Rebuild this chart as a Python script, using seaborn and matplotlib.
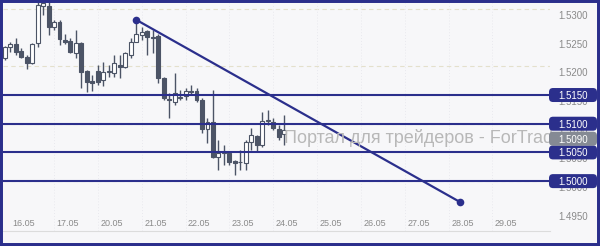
import numpy as np
import pandas as pd
import matplotlib
matplotlib.use("Agg")
import matplotlib.pyplot as plt
import seaborn as sns
from matplotlib.patches import FancyBboxPatch, Rectangle
from matplotlib.transforms import IdentityTransform

# ---- data (3-hour candles, 16.05 .. 24.05) ----
opens = [1.5214, 1.5234, 1.5239, 1.5227, 1.5216, 1.5206, 1.5241, 1.5305, 1.5305, 1.5268,
         1.5277, 1.5246, 1.5244, 1.5223, 1.5241, 1.5192, 1.5174, 1.5192, 1.5176, 1.5190,
         1.5188, 1.5202, 1.5199, 1.5220, 1.5242, 1.5255, 1.5261, 1.5251, 1.5253, 1.5180,
         1.5143, 1.5138, 1.5145, 1.5148, 1.5157, 1.5157, 1.5141, 1.5091, 1.5103, 1.5042,
         1.5049, 1.5049, 1.5035, 1.5033, 1.5032, 1.5068, 1.5079, 1.5063, 1.5105, 1.5103,
         1.5091, 1.5082]
highs = [1.5235, 1.5242, 1.5249, 1.5232, 1.5220, 1.5241, 1.5318, 1.5318, 1.5318, 1.5281,
         1.5281, 1.5256, 1.5249, 1.5263, 1.5242, 1.5194, 1.5185, 1.5202, 1.5207, 1.5202,
         1.5220, 1.5220, 1.5225, 1.5249, 1.5281, 1.5268, 1.5263, 1.5263, 1.5256, 1.5181,
         1.5153, 1.5188, 1.5159, 1.5162, 1.5167, 1.5162, 1.5145, 1.5110, 1.5159, 1.5072,
         1.5063, 1.5051, 1.5037, 1.5054, 1.5072, 1.5093, 1.5080, 1.5120, 1.5124, 1.5110,
         1.5098, 1.5115]
lows = [1.5211, 1.5225, 1.5220, 1.5214, 1.5195, 1.5204, 1.5234, 1.5289, 1.5255, 1.5263,
        1.5237, 1.5239, 1.5223, 1.5214, 1.5162, 1.5155, 1.5157, 1.5167, 1.5166, 1.5181,
        1.5181, 1.5180, 1.5197, 1.5214, 1.5242, 1.5246, 1.5220, 1.5223, 1.5171, 1.5141,
        1.5110, 1.5133, 1.5141, 1.5141, 1.5150, 1.5138, 1.5084, 1.5066, 1.5040, 1.5019,
        1.5028, 1.5028, 1.5011, 1.5019, 1.5019, 1.5054, 1.5051, 1.5059, 1.5098, 1.5089,
        1.5072, 1.5063]
closes = [1.5234, 1.5239, 1.5225, 1.5216, 1.5206, 1.5239, 1.5307, 1.5310, 1.5268, 1.5277,
          1.5248, 1.5242, 1.5225, 1.5241, 1.5190, 1.5173, 1.5171, 1.5173, 1.5190, 1.5192,
          1.5206, 1.5199, 1.5223, 1.5242, 1.5256, 1.5260, 1.5251, 1.5249, 1.5180, 1.5145,
          1.5141, 1.5153, 1.5146, 1.5157, 1.5156, 1.5141, 1.5091, 1.5103, 1.5042, 1.5049,
          1.5051, 1.5033, 1.5032, 1.5034, 1.5068, 1.5080, 1.5063, 1.5105, 1.5106, 1.5093,
          1.5077, 1.5089]

day_labels = ["16.05", "17.05", "20.05", "21.05", "22.05", "23.05",
              "24.05", "25.05", "26.05", "27.05", "28.05", "29.05"]
price_ticks = [1.5300, 1.5250, 1.5200, 1.5150, 1.5100, 1.5050, 1.5000, 1.4950]
levels = [1.5150, 1.5100, 1.5050, 1.5000]
current_price = 1.5090
trend_idx = [24, 83]
trend_price = [1.5281, 1.4964]
watermark = "Портал для трейдеров - ForTrader.ru"

# ---- style ----
NAVY = "#2b2f8c"
DARK = "#4c5466"
BG = "#f7f7f9"
GRAY_TXT = "#8a8a8a"

sns.set_theme(style="white")
plt.rcParams["font.family"] = ["Liberation Sans", "DejaVu Sans"]

fig = plt.figure(figsize=(6.0, 2.46), dpi=100, facecolor=BG)
ax = fig.add_axes([3 / 600, 15 / 246, 547 / 600, 228 / 246])
ax.set_facecolor(BG)
ax.set_xlim(-0.31, 99.5)
ax.set_ylim(1.49131, 1.53103)
for s in ["top", "right", "left"]:
    ax.spines[s].set_visible(False)
ax.spines["bottom"].set_color("#dcdcdc")
ax.spines["bottom"].set_linewidth(0.8)
ax.set_xticks([])
ax.set_yticks([])

# grid
for g in [1.5300, 1.5200, 1.5100, 1.5000]:
    ax.axhline(g, color="#e4e0cc", lw=0.8, ls=(0, (4, 3)), zorder=1)
for k in range(1, 12):
    ax.axvline(1 + 8 * k, color="#e9e9ee", lw=0.7, ls=(0, (1, 2)), zorder=1)

df = pd.DataFrame({"o": opens, "h": highs, "l": lows, "c": closes})
df["x"] = np.arange(len(df))
df["bull"] = df["c"] >= df["o"]
df["bottom"] = df[["o", "c"]].min(axis=1)
df["height"] = (df["c"] - df["o"]).abs().clip(lower=0.00007)

ax.vlines(df["x"], df["l"], df["h"], color=DARK, lw=1.0, zorder=3)
ax.bar(df["x"], df["height"], bottom=df["bottom"], width=0.72,
       color=np.where(df["bull"], "white", DARK), edgecolor=DARK,
       linewidth=0.8, zorder=4)

for lv in levels:
    ax.axhline(lv, color=NAVY, lw=1.5, zorder=5)

tdf = pd.DataFrame({"x": trend_idx, "y": trend_price})
sns.lineplot(data=tdf, x="x", y="y", ax=ax, color=NAVY, lw=1.6, marker="o",
             markersize=5.5, markeredgewidth=0, zorder=6)
ax.set_xlabel("")
ax.set_ylabel("")

# date labels
for k, lab in enumerate(day_labels):
    ax.text(3.5 + 8 * k, 0.031, lab, transform=ax.get_xaxis_transform(),
            ha="center", va="center", fontsize=6.5, color=GRAY_TXT, zorder=7)

# price axis labels (drawn just below each grid level)
for p in price_ticks:
    yd = ax.transData.transform((0, p))[1] - 6
    fig.text(573 / 600, yd / 246, f"{p:.4f}", ha="center", va="center_baseline",
             fontsize=7, color=GRAY_TXT, zorder=8)

# watermark
fig.text(284 / 600, (246 - 143) / 246, watermark, fontsize=13, color="#b8b8b8",
         va="baseline", ha="left", zorder=3)

# level boxes
def price_box(ydisp, text, fc):
    box = FancyBboxPatch((549, ydisp - 7), 48, 14,
                         boxstyle="round,pad=0,rounding_size=4",
                         transform=IdentityTransform(), fc=fc, ec="none", zorder=10)
    fig.add_artist(box)
    fig.text(573 / 600, ydisp / 246, text, ha="center", va="center_baseline",
             fontsize=7, color="white", zorder=11)

for lv in levels:
    price_box(ax.transData.transform((0, lv))[1], f"{lv:.4f}", NAVY)
price_box(ax.transData.transform((0, levels[1]))[1] - 15, f"{current_price:.4f}", "#858a94")

# figure border
fig.add_artist(Rectangle((0, 0), 1, 1, transform=fig.transFigure, fill=False,
                         ec=NAVY, lw=4.3, zorder=20))

fig.savefig("out.png", dpi=100, facecolor=BG)
